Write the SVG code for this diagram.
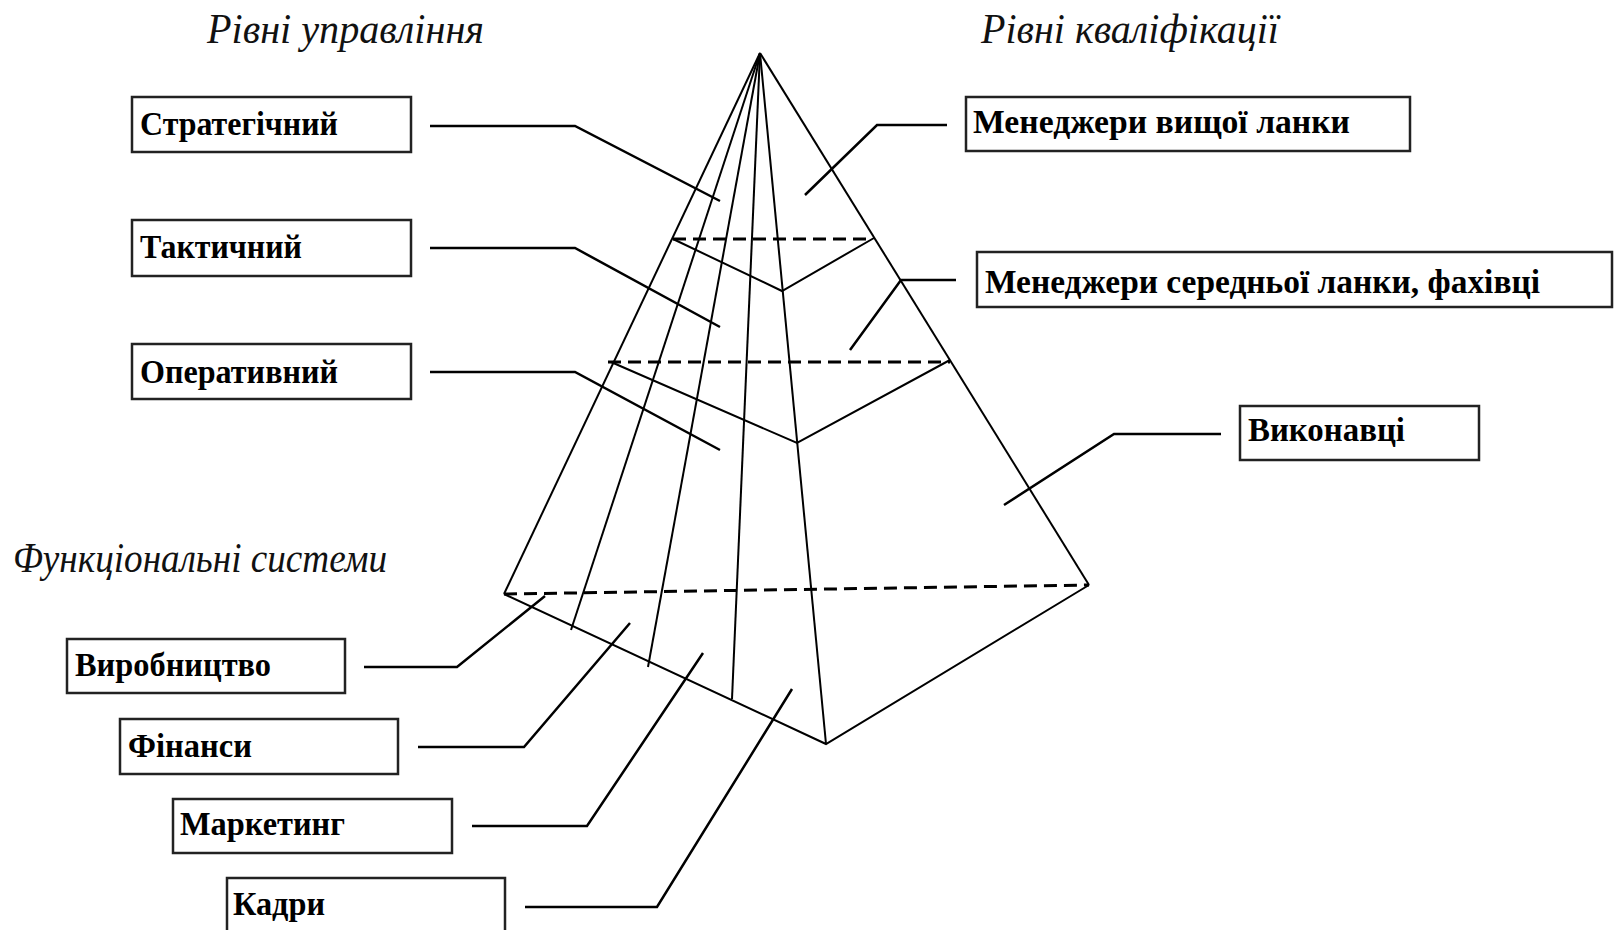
<svg xmlns="http://www.w3.org/2000/svg" width="1614" height="930" viewBox="0 0 1614 930">
<style>
  .bg { fill: #ffffff; }
  .box { fill: #ffffff; stroke: #222222; stroke-width: 2.5; }
  .lbl { font-family: "Liberation Serif", "Times New Roman", serif; font-weight: bold; font-size: 34px; fill: #000000; }
  .title { font-family: "Liberation Serif", "Times New Roman", serif; font-style: italic; font-size: 42px; fill: #111111; }
  .edge { fill: none; stroke: #000000; stroke-width: 2; stroke-linejoin: miter; }
  .dash { fill: none; stroke: #000000; stroke-width: 3; stroke-dasharray: 13 7; }
  .lead { fill: none; stroke: #000000; stroke-width: 2.5; stroke-linejoin: miter; }
</style>
<rect class="bg" x="0" y="0" width="1614" height="930"/>

<g id="titles">
  <text class="title" x="207" y="43" textLength="277" lengthAdjust="spacingAndGlyphs">Рівні управління</text>
  <text class="title" x="981" y="43" textLength="298" lengthAdjust="spacingAndGlyphs">Рівні кваліфікації</text>
  <text class="title" x="13" y="572" font-size="38" textLength="374" lengthAdjust="spacingAndGlyphs">Функціональні системи</text>
</g>

<g id="pyramid">
  <line class="dash" x1="504" y1="594" x2="1089" y2="585"/>
  <line class="dash" x1="673" y1="239" x2="866" y2="239"/>
  <line class="dash" x1="608" y1="362" x2="950" y2="362"/>
  <line class="edge" x1="760" y1="53" x2="504" y2="594"/>
  <line class="edge" x1="760" y1="53" x2="571" y2="630"/>
  <line class="edge" x1="760" y1="53" x2="648" y2="667"/>
  <line class="edge" x1="760" y1="53" x2="732" y2="699"/>
  <line class="edge" x1="760" y1="53" x2="826" y2="744"/>
  <line class="edge" x1="760" y1="53" x2="1089" y2="585"/>
  <polyline class="edge" points="504,594 826,744 1089,585"/>
  <polyline class="edge" points="673,239 782,291 874,238"/>
  <polyline class="edge" points="611,362 797,443 950,360"/>
</g>

<g id="connectors">
  <polyline class="lead" points="430,126 575,126 720,201"/>
  <polyline class="lead" points="430,248 575,248 720,327"/>
  <polyline class="lead" points="430,372 575,372 720,450"/>
  <polyline class="lead" points="947,125 877,125 805,195"/>
  <polyline class="lead" points="956,280 901,280 850,350"/>
  <polyline class="lead" points="1221,434 1114,434 1004,505"/>
  <polyline class="lead" points="364,667 457,667 545,596"/>
  <polyline class="lead" points="418,747 524,747 630,623"/>
  <polyline class="lead" points="472,826 587,826 703,653"/>
  <polyline class="lead" points="525,907 657,907 792,689"/>
</g>

<g id="node-strategic">
  <rect class="box" x="132" y="97" width="279" height="55"/>
  <text class="lbl" x="140" y="135" textLength="198" lengthAdjust="spacingAndGlyphs">Стратегічний</text>
</g>
<g id="node-tactical">
  <rect class="box" x="132" y="220" width="279" height="56"/>
  <text class="lbl" x="140" y="258" textLength="162" lengthAdjust="spacingAndGlyphs">Тактичний</text>
</g>
<g id="node-operational">
  <rect class="box" x="132" y="344" width="279" height="55"/>
  <text class="lbl" x="140" y="383" textLength="198" lengthAdjust="spacingAndGlyphs">Оперативний</text>
</g>
<g id="node-top-managers">
  <rect class="box" x="966" y="97" width="444" height="54"/>
  <text class="lbl" x="973" y="133" textLength="377" lengthAdjust="spacingAndGlyphs">Менеджери вищої  ланки</text>
</g>
<g id="node-middle-managers">
  <rect class="box" x="977" y="252" width="635" height="55"/>
  <text class="lbl" x="985" y="293" textLength="555" lengthAdjust="spacingAndGlyphs">Менеджери  середньої  ланки,  фахівці</text>
</g>
<g id="node-executors">
  <rect class="box" x="1240" y="406" width="239" height="54"/>
  <text class="lbl" x="1248" y="441" textLength="157" lengthAdjust="spacingAndGlyphs">Виконавці</text>
</g>
<g id="node-production">
  <rect class="box" x="67" y="639" width="278" height="54"/>
  <text class="lbl" x="75" y="676" textLength="196" lengthAdjust="spacingAndGlyphs">Виробництво</text>
</g>
<g id="node-finance">
  <rect class="box" x="120" y="719" width="278" height="55"/>
  <text class="lbl" x="128" y="757" textLength="124" lengthAdjust="spacingAndGlyphs">Фінанси</text>
</g>
<g id="node-marketing">
  <rect class="box" x="173" y="799" width="279" height="54"/>
  <text class="lbl" x="180" y="835" textLength="165" lengthAdjust="spacingAndGlyphs">Маркетинг</text>
</g>
<g id="node-personnel">
  <rect class="box" x="227" y="878" width="278" height="62"/>
  <text class="lbl" x="233" y="915" textLength="92" lengthAdjust="spacingAndGlyphs">Кадри</text>
</g>
</svg>
